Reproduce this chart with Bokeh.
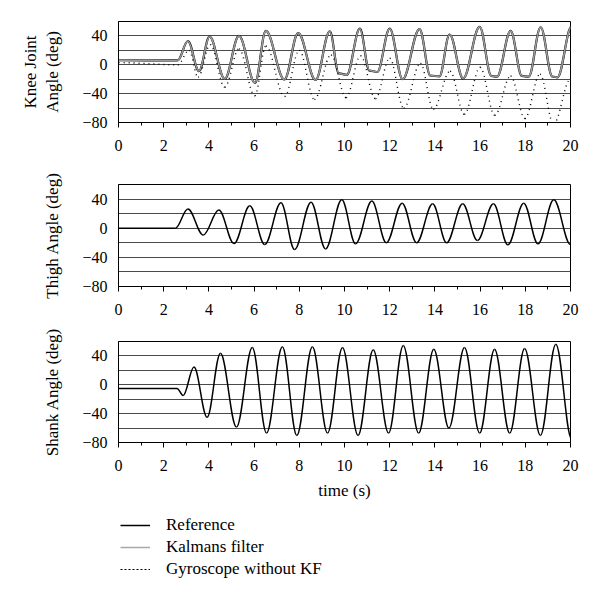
from bokeh.plotting import figure
from bokeh.models import FixedTicker, Range1d, Legend, LegendItem, ColumnDataSource
from bokeh.layouts import column
from bokeh.embed import file_html
from bokeh.resources import INLINE

# ---- data (extrema / turning points) ----
knee_t = [0, 2.62, 3.07, 3.56, 4.03, 4.70, 5.33, 6.04, 6.52, 7.34, 7.95, 8.72, 9.35, 9.75, 10.1,
          10.68, 11.1, 11.45, 12.0, 12.57, 13.32, 13.8, 14.2, 14.65, 15.25, 15.98, 16.5, 16.75,
          17.35, 17.85, 18.15, 18.68, 19.2, 19.42, 20.05]
knee_kf = [6.5, 6.0, 33, -8.8, 39, -19.5, 40, -25, 47, -20.5, 44, -21, 46.5, -12, -14,
           50, -8, -10, 50, -20, 49.5, -15, -16, 42, -19, 52.5, -15.5, -16.5,
           47, -15.5, -16.5, 52, -16.5, -17.5, 53]
knee_ref = [6.5, 6.0, 33, -8.8, 39, -19.5, 40, -25, 47, -20.5, 44, -21, 46.5, -12, -14,
            50, -8, -10, 50, -20, 49.5, -15, -16, 42, -19, 52.5, -15.5, -16.5,
            47, -15.5, -16.5, 52, -16.5, -17.5, 53]

gyro_t = [0, 2.62, 3.12, 3.52, 4.06, 4.70, 5.33, 6.03, 6.52, 7.35, 8.0, 8.67, 9.4, 10.07, 10.71,
          11.37, 12.0, 12.62, 13.36, 13.93, 14.67, 15.3, 16.0, 16.65, 17.35, 17.98, 18.65, 19.25, 20.0]
gyro_v = [3, 0, 20, -17, 28, -31, 22, -43, 26, -44, 20, -48, 13.5, -45.5, 12.5,
          -47, 9, -60, 2, -61.5, -9, -68.5, -3.5, -70, -15.5, -74.5, -13, -82, -20]

thigh_t = [0, 2.52, 3.07, 3.75, 4.44, 5.11, 5.81, 6.47, 7.19, 7.79, 8.52, 9.16, 9.88, 10.49, 11.21,
           11.85, 12.55, 13.19, 13.9, 14.52, 15.23, 15.88, 16.59, 17.23, 17.93, 18.56, 19.26, 20.0]
thigh_v = [0, 0, 26.5, -9.3, 25, -21, 30.7, -22.3, 34.9, -29.3, 35.8, -28.4, 39, -21.4, 37.2,
           -20, 34.4, -20, 33.5, -20, 33.5, -16.7, 33.5, -22.8, 34.4, -21.4, 39, -22.3]

shank_t = [0, 2.59, 2.86, 3.34, 3.92, 4.51, 5.22, 5.92, 6.55, 7.25, 7.89, 8.58, 9.25, 9.91, 10.60,
           11.27, 11.95, 12.60, 13.28, 13.95, 14.62, 15.31, 15.98, 16.64, 17.31, 17.97, 18.67, 19.35, 20.05]
shank_v = [-5, -5, -14.9, 24.7, -45, 43.7, -58.6, 51.6, -67, 52.6, -70.2, 52.6, -67, 51.6, -70.2,
           48.4, -67, 54.4, -67, 49.3, -60, 51.6, -67, 49.3, -67, 50.2, -70.2, 56.3, -75]

legend_labels = ["Reference", "Kalmans filter", "Gyroscope without KF"]
x_ticks = [0, 2, 4, 6, 8, 10, 12, 14, 16, 18, 20]
x_minor = [1, 3, 5, 7, 9, 11, 13, 15, 17, 19]
y_labels = {-80: "\u221280", -40: "\u221240", 0: "0", 40: "40"}
y_grid = [-60, -40, -20, 0, 20, 40]

FONT = "Liberation Serif"


def smooth_source(ts, vs, k=0.36):
    x0 = ts[:-1]
    x1 = ts[1:]
    y0 = vs[:-1]
    y1 = vs[1:]
    cx0 = [a + k * (b - a) for a, b in zip(x0, x1)]
    cx1 = [b - k * (b - a) for a, b in zip(x0, x1)]
    return ColumnDataSource(dict(x0=x0, y0=y0, x1=x1, y1=y1, cx0=cx0, cy0=y0, cx1=cx1, cy1=y1))


def draw(p, ts, vs, **kw):
    return p.bezier(x0="x0", y0="y0", x1="x1", y1="y1", cx0="cx0", cy0="cy0",
                    cx1="cx1", cy1="cy1", source=smooth_source(ts, vs), **kw)


def make_fig(height, top, bottom, ylabel, xlabel=None):
    p = figure(width=600, height=height, x_range=Range1d(0, 20), y_range=Range1d(-80, 60),
               output_backend="svg", toolbar_location=None,
               min_border_left=118, min_border_right=30, min_border_top=top, min_border_bottom=bottom)
    p.outline_line_color = "black"
    p.outline_line_width = 1
    p.background_fill_color = "white"
    p.border_fill_color = "white"
    p.xgrid.visible = False
    p.ygrid.ticker = FixedTicker(ticks=y_grid)
    p.ygrid.grid_line_color = "#4a4a4a"
    p.ygrid.grid_line_width = 1

    xa = p.xaxis[0]
    xa.ticker = FixedTicker(ticks=x_ticks, minor_ticks=x_minor)
    xa.major_tick_out = 5
    xa.major_tick_in = 0
    xa.minor_tick_out = 3
    xa.minor_tick_in = 0
    xa.axis_line_color = "black"
    xa.major_tick_line_color = "black"
    xa.minor_tick_line_color = "black"
    xa.major_label_text_font = FONT
    xa.major_label_text_font_size = "16px"
    xa.major_label_text_color = "black"
    xa.major_label_standoff = 12
    if xlabel:
        xa.axis_label = xlabel
        xa.axis_label_text_font = FONT
        xa.axis_label_text_font_size = "17px"
        xa.axis_label_text_font_style = "normal"
        xa.axis_label_text_color = "black"
        xa.axis_label_standoff = 7

    ya = p.yaxis[0]
    ya.ticker = FixedTicker(ticks=list(y_labels.keys()))
    ya.major_label_overrides = y_labels
    ya.major_tick_line_color = None
    ya.minor_tick_line_color = None
    ya.major_tick_out = 0
    ya.major_tick_in = 0
    ya.axis_line_color = "black"
    ya.major_label_text_font = FONT
    ya.major_label_text_font_size = "16px"
    ya.major_label_text_color = "black"
    ya.major_label_standoff = 11
    ya.axis_label = ylabel
    ya.axis_label_text_font = FONT
    ya.axis_label_text_font_size = "17px"
    ya.axis_label_text_font_style = "normal"
    ya.axis_label_text_color = "black"
    ya.axis_label_standoff = 17
    return p


p1 = make_fig(163, 21, 41, "Knee Joint\nAngle (deg)")
r_ref = draw(p1, knee_t, knee_ref, line_color="black", line_width=2.2)
r_kf = draw(p1, knee_t, knee_kf, line_color="#9c9c9c", line_width=1.6)
r_gy = draw(p1, gyro_t, gyro_v, line_color="black", line_width=1.4, line_dash="1 4")

p2 = make_fig(163, 21, 40, "Thigh Angle (deg)")
draw(p2, thigh_t, thigh_v, line_color="black", line_width=1.5)

p3 = make_fig(186, 15, 70, "Shank Angle (deg)", xlabel="time (s)")
draw(p3, shank_t, shank_v, line_color="black", line_width=1.5)

# separate legend strip below the three panels; its ranges keep the series out of view,
# the renderers only supply the legend glyphs
p4 = figure(width=600, height=90, x_range=Range1d(100, 101), y_range=Range1d(100, 101),
            output_backend="svg", toolbar_location=None, x_axis_type=None, y_axis_type=None,
            min_border_left=118, min_border_right=30, min_border_top=0, min_border_bottom=0)
p4.outline_line_color = None
p4.xgrid.visible = False
p4.ygrid.visible = False
p4.background_fill_color = "white"
p4.border_fill_color = "white"
l1 = p4.line(knee_t, knee_ref, line_color="black", line_width=1.5)
l2 = p4.line(knee_t, knee_kf, line_color="#a8a8a8", line_width=1.5)
l3 = p4.line(gyro_t, gyro_v, line_color="black", line_width=1.2, line_dash="2 2")

legend = Legend(items=[LegendItem(label=legend_labels[0], renderers=[l1]),
                       LegendItem(label=legend_labels[1], renderers=[l2]),
                       LegendItem(label=legend_labels[2], renderers=[l3])],
                location=(2, 23), orientation="vertical")
legend.label_text_font = FONT
legend.label_text_font_size = "17px"
legend.label_text_color = "black"
legend.glyph_width = 30
legend.glyph_height = 20
legend.label_height = 20
legend.label_standoff = 16
legend.spacing = 2
legend.padding = 0
legend.margin = 0
legend.border_line_color = None
legend.background_fill_alpha = 0
p4.add_layout(legend)

layout = column(p1, p2, p3, p4, spacing=0)

open("out.html", "w").write(file_html(layout, INLINE))
